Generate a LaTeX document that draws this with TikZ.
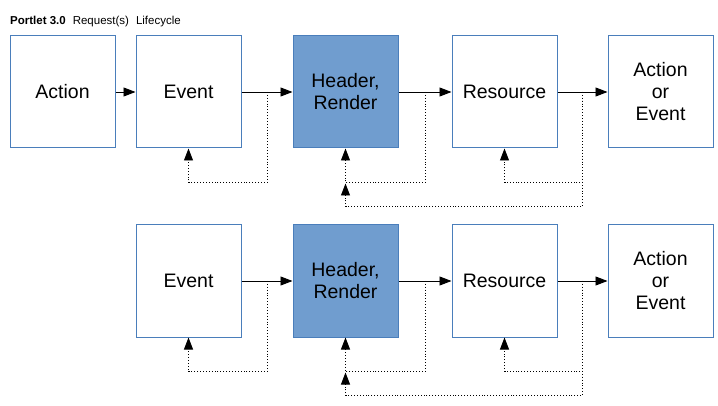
\documentclass[tikz,border=0pt]{standalone}
\usepackage{fontspec}
\setmainfont{Liberation Sans}
\usepackage{tikz}
\usetikzlibrary{arrows.meta, positioning}
\definecolor{boxline}{RGB}{74,126,187}
\definecolor{boxfill}{RGB}{112,157,207}

\begin{document}
\begin{tikzpicture}[x=1pt,y=1pt,
        stage node/.style={rectangle,draw=boxline,line width=1pt,
          minimum width=105pt,minimum height=112pt,inner sep=0pt,
          align=center,font=\fontsize{19.5}{22}\selectfont},
        current node/.style={stage node,fill=boxfill},
        flow/.style={-{Triangle[length=12pt,width=9pt]},line width=0.9pt},
        back/.style={-{Triangle[length=12pt,width=9pt]},dotted,line width=0.9pt}]
        \useasboundingbox (0,0) rectangle (718,-406);
        \node[anchor=west,inner sep=0pt,font=\fontsize{11.5}{13}\selectfont] (title) at (10,-22)
          {\textbf{Portlet 3.0}\hspace{7pt}Request(s)\hspace{7pt}Lifecycle};

        \node[stage node] (act1) at (62.5,-92) {Action};
        \node[stage node] (evt1) [right=20pt of act1] {Event};
        \node[current node] (ren1) [right=51pt of evt1] {Header,\\Render};
        \node[stage node] (res1) [right=53pt of ren1] {Resource};
        \node[stage node] (nxt1) [right=50pt of res1] {Action\\or\\Event};

        \node[stage node] (evt2) [below=76pt of evt1] {Event};
        \node[current node] (ren2) [right=51pt of evt2] {Header,\\Render};
        \node[stage node] (res2) [right=53pt of ren2] {Resource};
        \node[stage node] (nxt2) [right=50pt of res2] {Action\\or\\Event};

        \draw[flow] (act1) -- (evt1);
        \foreach \r in {1,2} {
        \draw[flow] (evt\r) -- coordinate (a\r) (ren\r);
        \draw[flow] (ren\r) -- coordinate (b\r) (res\r);
        \draw[flow] (res\r) -- coordinate (c\r) (nxt\r);
        \foreach \s/\t in {a/evt, b/ren, c/res} {
        \draw[back] (\s\r) |- ([yshift=-34pt]\t\r.south) -- (\t\r);}
        \draw[back] (c\r) |- ([yshift=-58pt]ren\r.south) -- ([yshift=-35pt]ren\r.south);
        }
        \end{tikzpicture}
\end{document}
